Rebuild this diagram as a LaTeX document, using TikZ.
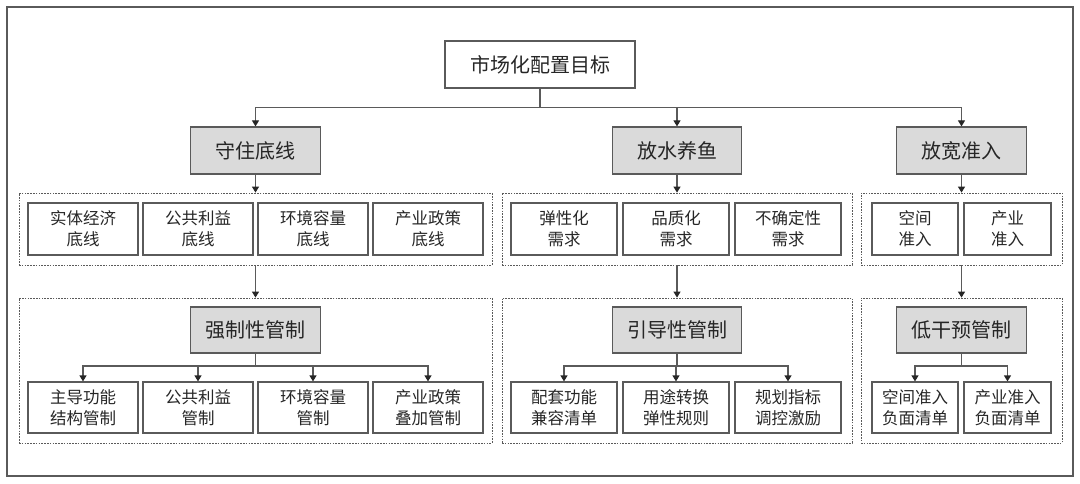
\documentclass[tikz,border=0pt]{standalone}
\usepackage{fontspec}
\setmainfont{Noto Sans CJK SC}
\usetikzlibrary{arrows.meta}
\definecolor{linec}{HTML}{5A5A5A}
\definecolor{textc}{HTML}{262626}
\definecolor{fillc}{HTML}{DADADA}
\begin{document}
\begin{tikzpicture}[x=1pt,y=-1pt,
  box/.style={draw=linec,line width=1.2pt,inner sep=0pt,align=center,text=textc,font=\fontsize{16.5}{21}\selectfont},
  bigbox/.style={box,font=\fontsize{20}{24}\selectfont},
  graybox/.style={bigbox,fill=fillc},
  grp/.style={draw=linec,line width=0.8pt,dash pattern=on 1.6pt off 1.2pt,inner sep=0pt},
  arr/.style={draw=linec,line width=1.2pt,-{Triangle[length=6pt,width=7pt,color=black!85]}},
  ln/.style={draw=linec,line width=1.2pt}]
\useasboundingbox (0,0) rectangle (1080,484);
\node[draw=linec,line width=1.2pt,minimum width=1066pt,minimum height=469pt,inner sep=0pt] (frame) at (540,241.5) {};
% top
\node[bigbox,minimum width=190pt,minimum height=47pt] (top) at (540,64.5) {市场化配置目标};
\coordinate (hub) at (540,107.7);
% level 2
\node[graybox,minimum width=130pt,minimum height=47pt] (g1) at (255.5,150.5) {守住底线};
\node[graybox,minimum width=129pt,minimum height=47pt] (g2) at (677,150.5) {放水养鱼};
\node[graybox,minimum width=130pt,minimum height=47pt] (g3) at (961.5,150.5) {放宽准入};
% dashed groups
\node[grp,minimum width=473pt,minimum height=72pt] (ga1) at (255.5,229) {};
\node[grp,minimum width=350pt,minimum height=72pt] (gb1) at (677,229) {};
\node[grp,minimum width=201pt,minimum height=72pt] (gc1) at (961.5,229) {};
\node[grp,minimum width=473pt,minimum height=145pt] (ga2) at (255.5,370.5) {};
\node[grp,minimum width=350pt,minimum height=145pt] (gb2) at (677,370.5) {};
\node[grp,minimum width=201pt,minimum height=145pt] (gc2) at (961.5,370.5) {};
% row 1 small boxes
\node[box,minimum width=110pt,minimum height=52pt] (a1) at (83,229) {实体经济\\底线};
\node[box,minimum width=110pt,minimum height=52pt] (a2) at (198,229) {公共利益\\底线};
\node[box,minimum width=110pt,minimum height=52pt] (a3) at (313,229) {环境容量\\底线};
\node[box,minimum width=110pt,minimum height=52pt] (a4) at (428,229) {产业政策\\底线};
\node[box,minimum width=106pt,minimum height=52pt] (b1) at (564,229) {弹性化\\需求};
\node[box,minimum width=106pt,minimum height=52pt] (b2) at (676,229) {品质化\\需求};
\node[box,minimum width=106pt,minimum height=52pt] (b3) at (788,229) {不确定性\\需求};
\node[box,minimum width=86pt,minimum height=52pt] (c1) at (915,229) {空间\\准入};
\node[box,minimum width=87pt,minimum height=52pt] (c2) at (1007.5,229) {产业\\准入};
% row 2 gray boxes
\node[graybox,minimum width=130pt,minimum height=46pt] (ha) at (255.5,330) {强制性管制};
\node[graybox,minimum width=129pt,minimum height=46pt] (hb) at (677,330) {引导性管制};
\node[graybox,minimum width=130pt,minimum height=46pt] (hc) at (961.5,330) {低干预管制};
% row 3 boxes
\node[box,minimum width=110pt,minimum height=51pt] (p1) at (83,407.5) {主导功能\\结构管制};
\node[box,minimum width=110pt,minimum height=51pt] (p2) at (198,407.5) {公共利益\\管制};
\node[box,minimum width=110pt,minimum height=51pt] (p3) at (313,407.5) {环境容量\\管制};
\node[box,minimum width=110pt,minimum height=51pt] (p4) at (428,407.5) {产业政策\\叠加管制};
\node[box,minimum width=106pt,minimum height=51pt] (q1) at (564,407.5) {配套功能\\兼容清单};
\node[box,minimum width=106pt,minimum height=51pt] (q2) at (676,407.5) {用途转换\\弹性规则};
\node[box,minimum width=106pt,minimum height=51pt] (q3) at (788,407.5) {规划指标\\调控激励};
\node[box,minimum width=86pt,minimum height=51pt] (r1) at (915,407.5) {空间准入\\负面清单};
\node[box,minimum width=87pt,minimum height=51pt] (r2) at (1007.5,407.5) {产业准入\\负面清单};
% branch hubs
\coordinate (bha) at (255.5,366);
\coordinate (bhb) at (677,366);
\coordinate (bhc) at (961.5,366);
% connectors top
\draw[ln] (top.south) -- (hub);
\draw[arr] (hub) -| (g1.north);
\draw[arr] (hub) -| (g2.north);
\draw[arr] (hub) -| (g3.north);
\draw[arr] (g1.south) -- (ga1.north);
\draw[arr] (g2.south) -- (gb1.north);
\draw[arr] (g3.south) -- (gc1.north);
\draw[arr] (ga1.south) -- (ga2.north);
\draw[arr] (gb1.south) -- (gb2.north);
\draw[arr] (gc1.south) -- (gc2.north);
\draw[ln] (ha.south) -- (bha);
\draw[ln] (hb.south) -- (bhb);
\draw[ln] (hc.south) -- (bhc);
\foreach \t in {p1,p2,p3,p4}{\draw[arr] (bha) -| (\t.north);}
\foreach \t in {q1,q2,q3}{\draw[arr] (bhb) -| (\t.north);}
\foreach \t in {r1,r2}{\draw[arr] (bhc) -| (\t.north);}
\end{tikzpicture}
\end{document}
